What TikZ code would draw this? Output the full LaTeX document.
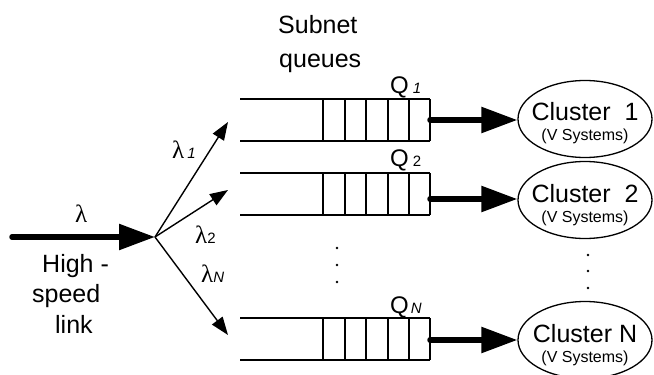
\documentclass[tikz,border=0pt]{standalone}
\usepackage{fontspec}
\setmainfont{Liberation Sans}
\newfontfamily\lamfont{Liberation Serif}
\usetikzlibrary{arrows.meta,shapes.geometric}
\begin{document}
\begin{tikzpicture}[x=1pt,y=-1pt,
  qline/.style={line width=1.3pt},
  bigarrow/.style={line width=5.5pt, line cap=round, -{Triangle[length=36pt,width=25pt]}},
  thinarrow/.style={line width=1.4pt, -{Triangle[length=18pt,width=13pt]}},
  cluster/.style={ellipse, draw, line width=1.3pt, minimum width=134pt, minimum height=77pt, inner sep=0pt},
  bigtext/.style={font=\fontsize{25}{30}\selectfont, inner sep=0pt, anchor=base west},
  cltext/.style={font=\fontsize{25}{30}\selectfont, inner sep=0pt, anchor=base},
  vstext/.style={font=\fontsize{16}{18}\selectfont, inner sep=0pt, anchor=base},
  qtext/.style={font=\fontsize{24}{28}\selectfont, inner sep=0pt, anchor=base west},
  lamtext/.style={font=\fontsize{25}{28}\selectfont\lamfont, inner sep=0pt, anchor=base west},
  subtext/.style={font=\fontsize{15}{17}\selectfont},
  dotmark/.style={fill=black}
]
\useasboundingbox (0,0) rectangle (654,375);
\clip (0,0) rectangle (654,375);

% queues
\foreach \t in {99,173,318}{
  \pgfmathsetmacro{\b}{\t+42}
  \draw[qline] (240,\t) -- (430,\t);
  \draw[qline] (240,\b) -- (430,\b);
  \foreach \x in {323,345,366,388,409,430}{
    \draw[qline] (\x,\t) -- (\x,\b);
  }
}
\coordinate (q1out) at (430,120);
\coordinate (q2out) at (430,199);
\coordinate (qNout) at (430,340);

% clusters
\node[cluster] (c1) at (585,119) {};
\node[cluster] (c2) at (585,200) {};
\node[cluster] (cN) at (585,340) {};
\node[cltext] (c1t) at (585,120) {Cluster\ \ 1};
\node[vstext] (c1v) at (585,140) {(V Systems)};
\node[cltext] (c2t) at (585,202) {Cluster\ \ 2};
\node[vstext] (c2v) at (585,222) {(V Systems)};
\node[cltext] (cNt) at (585,342) {Cluster N};
\node[vstext] (cNv) at (585,362) {(V Systems)};

% output arrows
\draw[bigarrow] (q1out) -- (c1.west |- q1out);
\draw[bigarrow] (q2out) -- (c2.west |- q2out);
\draw[bigarrow] (qNout) -- (cN.west |- qNout);

% input and fan-out
\coordinate (src) at (12,237);
\coordinate (fan) at (155,237);
\coordinate (t1) at (228,122);
\coordinate (t2) at (228,190);
\coordinate (tN) at (228,335);
\draw[bigarrow] (src) -- (fan);
\draw[thinarrow] (fan) -- (t1);
\draw[thinarrow] (fan) -- (t2);
\draw[thinarrow] (fan) -- (tN);

% labels
\node[lamtext] (lam) at (75,222) {λ};
\node[lamtext] (lam1) at (172,158) {λ\kern3pt{\fontspec{Liberation Sans}\fontsize{15}{17}\selectfont\itshape 1}};
\node[lamtext] (lam2) at (195,243) {λ{\fontspec{Liberation Sans}\fontsize{15}{17}\selectfont 2}};
\node[lamtext] (lamN) at (201,282) {λ{\fontspec{Liberation Sans}\fontsize{15}{17}\selectfont\itshape N}};

\node[bigtext] (high) at (42,272) {High -};
\node[bigtext] (speed) at (32,302) {speed};
\node[bigtext] (link) at (55,333) {link};
\node[bigtext] (subnet) at (278,33) {Subnet};
\node[bigtext] (queues) at (279,67) {queues};

\node[qtext] (Q1) at (390,93) {Q\kern4pt{\fontsize{15}{17}\selectfont\itshape 1}};
\node[qtext] (Q2) at (390,166) {Q\kern4pt{\fontsize{15}{17}\selectfont 2}};
\node[qtext] (QN) at (390,313) {Q\kern2pt{\fontsize{15}{17}\selectfont\itshape N}};

% ellipsis dots
\foreach \y in {248,265,282}{ \fill[dotmark] (337,\y) circle (1.4pt); }
\foreach \y in {255,271,288}{ \fill[dotmark] (588,\y) circle (1.4pt); }
\end{tikzpicture}
\end{document}
